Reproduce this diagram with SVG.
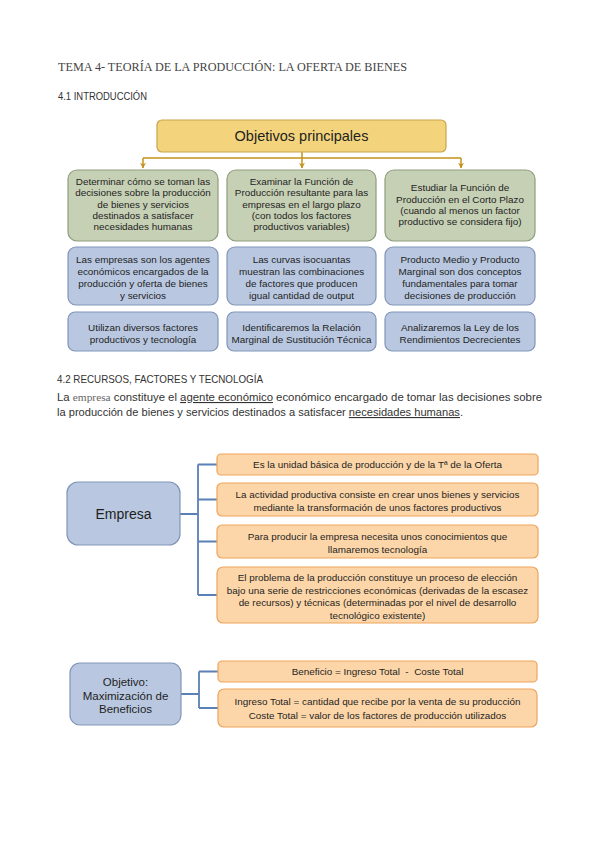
<svg xmlns="http://www.w3.org/2000/svg" width="599" height="848" viewBox="0 0 599 848">
<style>
.bg{fill:#ffffff}
.t{font-family:"Liberation Sans",Arial,sans-serif;font-size:9.9px;fill:#1e1e1e;text-anchor:middle}
.t14{font-size:14.5px}
.t13{font-size:14px}
.t11{font-size:11.5px}
.hand{font-family:"Liberation Sans",Arial,sans-serif;fill:#333}
.gold{fill:#f3d47d;stroke:#c9a44a;stroke-width:1.2}
.green{fill:#c6d0b5;stroke:#8e9d7e;stroke-width:1.2}
.blue{fill:#b9c8e0;stroke:#8095b8;stroke-width:1.2}
.orange{fill:#fcd6a9;stroke:#eda45c;stroke-width:1.2}
.cg{fill:none;stroke:#c4921c;stroke-width:1.5}
.cb{fill:none;stroke:#5a80b6;stroke-width:1.8}
</style>
<defs>
<marker id="ah" viewBox="0 0 10 10" refX="9" refY="5" markerWidth="4" markerHeight="4" orient="auto">
<path d="M0,0 L10,5 L0,10 L3,5 Z" fill="#c4921c"/>
</marker>
</defs>
<rect class="bg" x="0" y="0" width="599" height="848"/>

<g id="headings">
<text x="58" y="71" font-family="Liberation Serif,serif" font-size="12" fill="#444" textLength="349" lengthAdjust="spacingAndGlyphs">TEMA 4- TEORÍA DE LA PRODUCCIÓN: LA OFERTA DE BIENES</text>
<text class="hand" x="58" y="100" font-size="11" textLength="89" lengthAdjust="spacingAndGlyphs">4.1 INTRODUCCIÓN</text>
<text class="hand" x="57" y="383" font-size="10.5" textLength="206" lengthAdjust="spacingAndGlyphs">4.2 RECURSOS, FACTORES Y TECNOLOGÍA</text>
<text class="hand" x="57" y="401" font-size="11" textLength="485" lengthAdjust="spacingAndGlyphs">La <tspan font-family="Liberation Serif,serif" fill="#666">empresa</tspan> constituye el <tspan text-decoration="underline">agente económico</tspan> económico encargado de tomar las decisiones sobre</text>
<text class="hand" x="57" y="416" font-size="11" textLength="406" lengthAdjust="spacingAndGlyphs">la producción de bienes y servicios destinados a satisfacer <tspan text-decoration="underline">necesidades humanas</tspan>.</text>
</g>

<g id="connectors">
<path class="cg" d="M302,152 V158 M143,158 H461"/>
<path class="cg" d="M143,158 V168" marker-end="url(#ah)"/>
<path class="cg" d="M302,158 V168" marker-end="url(#ah)"/>
<path class="cg" d="M461,158 V168" marker-end="url(#ah)"/>
<path class="cb" d="M180,514 H198 M198,464.5 V595 M198,464.5 H217 M198,499.5 H217 M198,541.5 H217 M198,595 H217"/>
<path class="cb" d="M181,694 H199 M199,671.5 V708 M199,671.5 H218 M199,708 H218"/>
</g>

<g id="objetivos">
<rect class="gold" x="157" y="120" width="289" height="32" rx="5"/>
<text class="t t14" x="301.5" y="141">Objetivos principales</text>
</g>

<g id="g1">
<rect class="green" x="68" y="170" width="150" height="71" rx="9"/>
<text class="t" x="143" y="185">Determinar cómo se toman las</text>
<text class="t" x="143" y="196.3">decisiones sobre la producción</text>
<text class="t" x="143" y="207.6">de bienes y servicios</text>
<text class="t" x="143" y="218.9">destinados a satisfacer</text>
<text class="t" x="143" y="230.2">necesidades humanas</text>
</g>
<g id="g2">
<rect class="green" x="227" y="170" width="149" height="71" rx="9"/>
<text class="t" x="301.5" y="185">Examinar la Función de</text>
<text class="t" x="301.5" y="196.3">Producción resultante para las</text>
<text class="t" x="301.5" y="207.6">empresas en el largo plazo</text>
<text class="t" x="301.5" y="218.9">(con todos los factores</text>
<text class="t" x="301.5" y="230.2">productivos variables)</text>
</g>
<g id="g3">
<rect class="green" x="385" y="170" width="150" height="71" rx="9"/>
<text class="t" x="460" y="191.2">Estudiar la Función de</text>
<text class="t" x="460" y="202.5">Producción en el Corto Plazo</text>
<text class="t" x="460" y="213.8">(cuando al menos un factor</text>
<text class="t" x="460" y="225.1">productivo se considera fijo)</text>
</g>

<g id="b1">
<rect class="blue" x="68" y="247" width="150" height="58" rx="8"/>
<text class="t" x="143" y="263">Las empresas son los agentes</text>
<text class="t" x="143" y="275">económicos encargados de la</text>
<text class="t" x="143" y="287">producción y oferta de bienes</text>
<text class="t" x="143" y="299">y servicios</text>
</g>
<g id="b2">
<rect class="blue" x="227" y="247" width="149" height="58" rx="8"/>
<text class="t" x="301.5" y="263">Las curvas isocuantas</text>
<text class="t" x="301.5" y="275">muestran las combinaciones</text>
<text class="t" x="301.5" y="287">de factores que producen</text>
<text class="t" x="301.5" y="299">igual cantidad de output</text>
</g>
<g id="b3">
<rect class="blue" x="385" y="247" width="150" height="58" rx="8"/>
<text class="t" x="460" y="263">Producto Medio y Producto</text>
<text class="t" x="460" y="275">Marginal son dos conceptos</text>
<text class="t" x="460" y="287">fundamentales para tomar</text>
<text class="t" x="460" y="299">decisiones de producción</text>
</g>

<g id="c1">
<rect class="blue" x="68" y="312" width="150" height="39" rx="7"/>
<text class="t" x="143" y="330.5">Utilizan diversos factores</text>
<text class="t" x="143" y="342.5">productivos y tecnología</text>
</g>
<g id="c2">
<rect class="blue" x="227" y="312" width="149" height="39" rx="7"/>
<text class="t" x="301.5" y="330.5">Identificaremos la Relación</text>
<text class="t" x="301.5" y="342.5">Marginal de Sustitución Técnica</text>
</g>
<g id="c3">
<rect class="blue" x="385" y="312" width="150" height="39" rx="7"/>
<text class="t" x="460" y="330.5">Analizaremos la Ley de los</text>
<text class="t" x="460" y="342.5">Rendimientos Decrecientes</text>
</g>

<g id="empresa">
<rect class="blue" x="67" y="482" width="113" height="63" rx="11"/>
<text class="t t13" x="123.5" y="519">Empresa</text>
</g>
<g id="e1">
<rect class="orange" x="217" y="454" width="321" height="21" rx="4"/>
<text class="t" x="377.5" y="468">Es la unidad básica de producción y de la Tª de la Oferta</text>
</g>
<g id="e2">
<rect class="orange" x="217" y="483" width="321" height="33" rx="5"/>
<text class="t" x="377.5" y="497.5">La actividad productiva consiste en crear unos bienes y servicios</text>
<text class="t" x="377.5" y="510.5">mediante la transformación de unos factores productivos</text>
</g>
<g id="e3">
<rect class="orange" x="217" y="525" width="321" height="33" rx="5"/>
<text class="t" x="377.5" y="539.5">Para producir la empresa necesita unos conocimientos que</text>
<text class="t" x="377.5" y="552.5">llamaremos tecnología</text>
</g>
<g id="e4">
<rect class="orange" x="217" y="567" width="321" height="56" rx="6"/>
<text class="t" x="377.5" y="581">El problema de la producción constituye un proceso de elección</text>
<text class="t" x="377.5" y="593.5">bajo una serie de restricciones económicas (derivadas de la escasez</text>
<text class="t" x="377.5" y="606">de recursos) y técnicas (determinadas por el nivel de desarrollo</text>
<text class="t" x="377.5" y="618.5">tecnológico existente)</text>
</g>

<g id="objetivo">
<rect class="blue" x="70" y="663" width="111" height="62" rx="10"/>
<text class="t t11" x="125.5" y="686">Objetivo:</text>
<text class="t t11" x="125.5" y="699.5">Maximización de</text>
<text class="t t11" x="125.5" y="713">Beneficios</text>
</g>
<g id="o1">
<rect class="orange" x="218" y="661" width="319" height="21" rx="4"/>
<text class="t" x="377.5" y="675" xml:space="preserve">Beneficio = Ingreso Total  -  Coste Total</text>
</g>
<g id="o2">
<rect class="orange" x="218" y="689" width="319" height="38" rx="6"/>
<text class="t" x="377.5" y="704.5">Ingreso Total = cantidad que recibe por la venta de su producción</text>
<text class="t" x="377.5" y="719">Coste Total = valor de los factores de producción utilizados</text>
</g>
</svg>
